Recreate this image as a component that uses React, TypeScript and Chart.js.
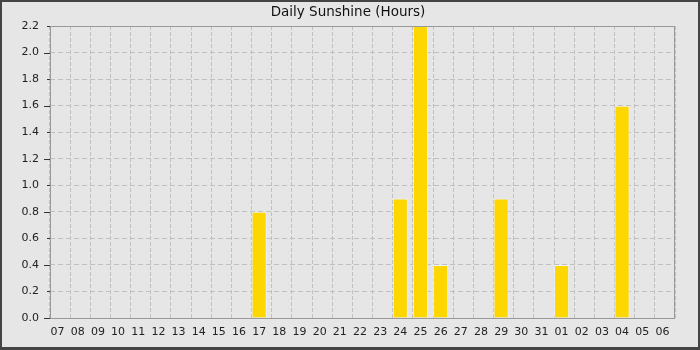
import React, { useEffect, useRef } from "react";
import { Chart, registerables } from "chart.js";

Chart.register(...registerables);

const categories = ["07","08","09","10","11","12","13","14","15","16","17","18","19","20","21","22","23","24","25","26","27","28","29","30","31","01","02","03","04","05","06"];
const sunshine = [0,0,0,0,0,0,0,0,0,0,0.8,0,0,0,0,0,0,0.9,2.2,0.4,0,0,0.9,0,0,0.4,0,0,1.6,0,0];
const chartTitle = "Daily Sunshine (Hours)";
const yMin = 0;
const yMax = 2.2;
const yStep = 0.1;

const FONT = "'DejaVu Sans', sans-serif";
const BAR_FRACTION = 0.75;

const framePlugin = {
  id: "frame",
  beforeDraw(chart: any) {
    const { ctx, width, height } = chart;
    ctx.save();
    ctx.fillStyle = "#444444";
    ctx.fillRect(0, 0, width, height);
    ctx.fillStyle = "#e6e6e6";
    ctx.fillRect(2, 2, width - 4, height - 5);
    ctx.restore();
  },
  afterDatasetsUpdate(chart: any) {
    // bars are left-aligned in their category slot
    const xs = chart.scales.x;
    const w = (xs.right - xs.left) / categories.length;
    const shift = w * (1 - BAR_FRACTION) / 2;
    chart.getDatasetMeta(0).data.forEach((el: any) => {
      el.x -= shift;
    });
  },
  afterDraw(chart: any) {
    const { ctx, chartArea } = chart;
    const ys = chart.scales.y;
    ctx.save();
    ctx.strokeStyle = "#999999";
    ctx.lineWidth = 1;
    ctx.strokeRect(Math.round(chartArea.left) + 0.5, Math.round(chartArea.top) + 0.5,
      Math.round(chartArea.right - chartArea.left) - 1, Math.round(chartArea.bottom - chartArea.top));
    ctx.strokeStyle = "#333333";
    ys.ticks.forEach((t: any, i: number) => {
      const y = Math.round(ys.getPixelForValue(t.value)) + 0.5;
      const len = i % 2 === 0 ? 6 : 3;
      ctx.beginPath();
      ctx.moveTo(chartArea.left - len, y);
      ctx.lineTo(chartArea.left, y);
      ctx.stroke();
    });
    ctx.fillStyle = "#111111";
    ctx.font = "13.5px " + FONT;
    ctx.textAlign = "center";
    ctx.textBaseline = "middle";
    ctx.fillText(chartTitle, 348, 12);
    ctx.restore();
  },
};

export default function App() {
  const ref = useRef<HTMLCanvasElement>(null);
  useEffect(() => {
    document.body.style.margin = "0";
    const chart = new Chart(ref.current as HTMLCanvasElement, {
      type: "bar",
      data: {
        labels: categories,
        datasets: [
          {
            data: sunshine,
            backgroundColor: "#ffd700",
            borderColor: "rgba(240,248,255,0.75)",
            borderWidth: 1,
            barPercentage: BAR_FRACTION,
            categoryPercentage: 1,
          },
        ],
      },
      options: {
        responsive: false,
        animation: false,
        layout: { padding: { top: 26, right: 25, left: 0, bottom: 0 } },
        plugins: {
          legend: { display: false },
          title: { display: false },
          tooltip: { enabled: false },
        },
        scales: {
          x: {
            offset: true,
            grid: {
              offset: true,
              color: "#c0c0c0",
              drawTicks: false,
            },
            border: { display: false, dash: [4, 2] },
            ticks: {
              font: { family: FONT, size: 11 },
              color: "#222222",
              padding: 8,
              maxRotation: 0,
              autoSkip: false,
              labelOffset: -2.5,
            },
            afterFit(scale: any) {
              scale.height = 32;
            },
          },
          y: {
            min: yMin,
            max: yMax,
            grid: {
              color: (c: any) => (c.index % 2 === 0 ? "#c0c0c0" : "rgba(0,0,0,0)"),
              drawTicks: false,
            },
            border: { display: false, dash: [5, 3] },
            ticks: {
              stepSize: yStep,
              font: { family: FONT, size: 11 },
              color: "#222222",
              padding: 11,
              callback: (v: any, i: number) => (i % 2 === 0 ? Number(v).toFixed(1) : ""),
            },
            afterFit(scale: any) {
              scale.width = 50;
            },
          },
        },
      },
      plugins: [framePlugin],
    });
    return () => chart.destroy();
  }, []);
  return (
    <div style={{ width: 700, height: 350 }}>
      <canvas ref={ref} width={700} height={350} style={{ display: "block" }} />
    </div>
  );
}
